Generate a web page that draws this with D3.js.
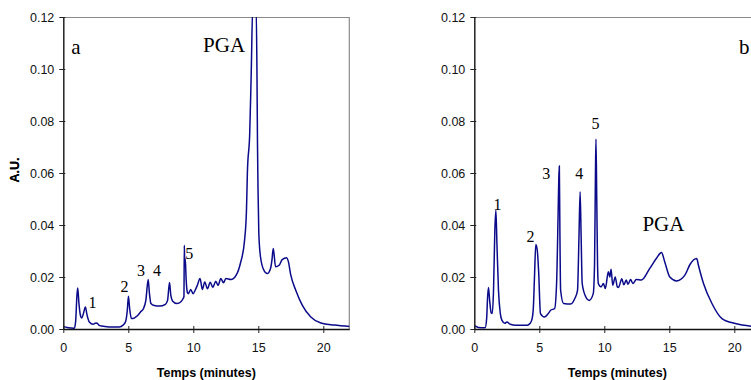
<!DOCTYPE html>
<html>
<head>
<meta charset="utf-8">
<script src="https://cdn.jsdelivr.net/npm/d3@7"></script>
<style>
  body { margin: 0; background: #fff; }
  svg { display: block; }
</style>
</head>
<body>
<div id="chart"></div>
<script>
// chromatogram a : time (min) / absorbance
const tA = [0, 0.3, 0.6, 0.85, 0.95, 1.05, 1.11, 1.2, 1.32, 1.42, 1.55, 1.7, 1.82, 2.0, 2.3, 2.5, 2.6, 2.8, 3.2, 3.8,
  4.3, 4.6, 4.8, 4.92, 5.01, 5.1, 5.24, 5.45, 5.65, 5.85, 5.95, 6.17, 6.35, 6.53, 6.62, 6.74, 7.0, 7.4, 7.85, 8.02,
  8.17, 8.27, 8.4, 8.74, 9.05, 9.22, 9.28, 9.31, 9.34, 9.38, 9.45, 9.55, 9.62, 9.8, 9.98, 10.15, 10.31, 10.52, 10.7, 10.88,
  11.09, 11.3, 11.5, 11.73, 11.9, 12.12, 12.32, 12.5, 12.9, 13.3, 13.62, 13.94, 14.09, 14.16, 14.34, 14.45, 14.58, 14.83, 14.9, 14.94,
  14.98, 15.04, 15.17, 15.43, 15.69, 15.94, 16.05, 16.15, 16.33, 16.6, 16.84, 17.18, 17.3, 17.5, 17.88, 18.39, 19.04, 19.81, 20.83, 22.05];
const auA = [0.0010, 0.0006, 0.0004, 0.0003, 0.0030, 0.0130, 0.0158, 0.0100, 0.0052, 0.0042, 0.0060, 0.0085, 0.0055, 0.0027, 0.0018, 0.0023, 0.0022, 0.0013, 0.0010, 0.0008,
  0.0008, 0.0015, 0.0030, 0.0070, 0.0126, 0.0080, 0.0040, 0.0042, 0.0049, 0.0060, 0.0066, 0.0079, 0.0110, 0.0190, 0.0140, 0.0098, 0.0090, 0.0088, 0.0095, 0.0110,
  0.0179, 0.0130, 0.0108, 0.0098, 0.0105, 0.0117, 0.0125, 0.0322, 0.0255, 0.0271, 0.0190, 0.0140, 0.0136, 0.0152, 0.0136, 0.0150, 0.0168, 0.0194, 0.0152, 0.0181,
  0.0155, 0.0180, 0.0160, 0.0184, 0.0168, 0.0194, 0.0178, 0.0194, 0.0190, 0.0207, 0.0252, 0.0340, 0.0457, 0.0600, 0.0753, 0.0970, 0.1250, 0.1250, 0.0970, 0.0700,
  0.0534, 0.0368, 0.0277, 0.0226, 0.0213, 0.0233, 0.0265, 0.0310, 0.0239, 0.0245, 0.0267, 0.0274, 0.0262, 0.0207, 0.0149, 0.0091, 0.0046, 0.0023, 0.0015, 0.0010];

// chromatogram b
const tB = [0, 0.05, 0.3, 0.83, 0.95, 1.02, 1.09, 1.18, 1.3, 1.38, 1.48, 1.58, 1.66, 1.74, 1.86, 2.0, 2.12, 2.35, 2.51, 2.77,
  3.2, 4.06, 4.3, 4.45, 4.55, 4.63, 4.73, 4.85, 4.95, 5.09, 5.4, 5.7, 5.87, 6.18, 6.33, 6.45, 6.5, 6.54, 6.58, 6.64,
  6.87, 7.42, 7.73, 7.94, 8.05, 8.14, 8.22, 8.3, 8.58, 8.84, 9.15, 9.25, 9.32, 9.36, 9.42, 9.48, 9.54, 9.75, 9.93, 10.08,
  10.31, 10.42, 10.52, 10.65, 10.84, 11.0, 11.09, 11.35, 11.5, 11.69, 11.82, 12.02, 12.2, 12.46, 12.85, 13.5, 14.0, 14.4, 14.65, 15.04,
  15.56, 16.2, 16.6, 17.11, 17.24, 17.63, 18.28, 19.05, 20.09, 21.46, 22.0];
const auB = [0.0010, 0.0012, 0.0006, 0.0005, 0.0040, 0.0120, 0.0160, 0.0110, 0.0062, 0.0060, 0.0150, 0.0380, 0.0457, 0.0330, 0.0149, 0.0060, 0.0034, 0.0022, 0.0027, 0.0018,
  0.0014, 0.0014, 0.0022, 0.0040, 0.0090, 0.0200, 0.0325, 0.0300, 0.0220, 0.0059, 0.0046, 0.0060, 0.0072, 0.0079, 0.0175, 0.0450, 0.0580, 0.0627, 0.0400, 0.0149,
  0.0098, 0.0096, 0.0117, 0.0149, 0.0350, 0.0528, 0.0350, 0.0175, 0.0123, 0.0110, 0.0136, 0.0250, 0.0600, 0.0730, 0.0500, 0.0250, 0.0175, 0.0162, 0.0175, 0.0156,
  0.0220, 0.0200, 0.0230, 0.0168, 0.0200, 0.0162, 0.0160, 0.0193, 0.0170, 0.0188, 0.0172, 0.0190, 0.0175, 0.0190, 0.0188, 0.0233, 0.0271, 0.0294, 0.0258, 0.0200,
  0.0185, 0.0207, 0.0249, 0.0271, 0.0245, 0.0175, 0.0098, 0.0040, 0.0021, 0.0010, 0.0008];

const xTicks = [0, 5, 10, 15, 20];
const yTicks = [0, 0.02, 0.04, 0.06, 0.08, 0.10, 0.12];

// peak labels (text, time, absorbance at label centre)
const peaksA = [["1", 2.24, 0.0102], ["2", 4.70, 0.0162], ["3", 5.97, 0.0226], ["4", 7.20, 0.0226], ["5", 9.69, 0.0291]];
const peaksB = [["1", 1.79, 0.048], ["2", 4.32, 0.0355], ["3", 5.54, 0.0599], ["4", 8.07, 0.0599], ["5", 9.32, 0.0792]];
const bigA = [["a", 0.98, 0.1086], ["PGA", 12.37, 0.1093]];
const bigB = [["b", 20.76, 0.1087], ["PGA", 14.55, 0.0406]];

const width = 751, height = 380;
const plotW = 286, plotH = 312, plotTop = 17;

const svg = d3.select("#chart").append("svg")
    .attr("width", width)
    .attr("height", height);

function drawPanel(left, id, t, au, peaks, big) {
    let x = d3.scaleLinear().domain([0, 22]).range([0, plotW]);
    let y = d3.scaleLinear().domain([0, 0.12]).range([plotH, 0]);

    let g = svg.append("g").attr("transform", `translate(${left}, ${plotTop})`);

    // grey frame top + right
    g.append("path")
        .attr("d", `M0,0.5H${plotW}V${plotH}`)
        .attr("fill", "none")
        .attr("stroke", "#8a8a8a")
        .attr("stroke-width", 1.2);

    g.append("clipPath").attr("id", "clip" + id)
        .append("rect").attr("x", 0).attr("y", 0).attr("width", plotW).attr("height", plotH);

    let line = d3.line()
        .x(d => x(d[0]))
        .y(d => y(d[1]))
        .curve(d3.curveMonotoneX);

    g.append("path")
        .datum(d3.zip(t, au))
        .attr("clip-path", `url(#clip${id})`)
        .attr("d", line)
        .attr("fill", "none")
        .attr("stroke", "#0a0a8a")
        .attr("stroke-width", 1.5);

    // y axis
    let ya = g.append("g")
        .call(d3.axisLeft(y).tickValues(yTicks).tickFormat(d3.format(".2f")).tickSizeOuter(0));
    ya.select(".domain").attr("stroke", "#222").attr("stroke-width", 1.5);
    ya.selectAll(".tick line").attr("x1", 2).attr("x2", -4).attr("stroke", "#222");
    ya.selectAll(".tick text").attr("x", -9)
        .style("font-family", "Arial, 'Liberation Sans', sans-serif")
        .style("font-size", "12.5px").attr("fill", "#111");

    // x axis
    let xa = g.append("g")
        .attr("transform", `translate(0, ${plotH})`)
        .call(d3.axisBottom(x).tickValues(xTicks).tickSizeOuter(0));
    xa.select(".domain").attr("stroke", "#111").attr("stroke-width", 1.5);
    xa.selectAll(".tick line").attr("y1", -3).attr("y2", 4).attr("stroke", "#222");
    xa.selectAll(".tick text").attr("y", 14)
        .style("font-family", "Arial, 'Liberation Sans', sans-serif")
        .style("font-size", "12.5px").attr("fill", "#111");

    // axis titles
    g.append("text")
        .attr("transform", `translate(${plotW / 2}, ${plotH + 48})`)
        .style("text-anchor", "middle")
        .style("font-family", "Arial, 'Liberation Sans', sans-serif")
        .style("font-weight", "bold")
        .style("font-size", "12.5px")
        .text("Temps (minutes)");

    g.append("text")
        .attr("transform", `translate(${-left + 15}, ${153}) rotate(-90)`)
        .attr("dy", "0.35em")
        .style("text-anchor", "middle")
        .style("font-family", "Arial, 'Liberation Sans', sans-serif")
        .style("font-weight", "bold")
        .style("font-size", "12.5px")
        .text("A.U.");

    // peak numbers
    g.selectAll("text.peak")
        .data(peaks)
        .enter()
        .append("text")
        .attr("class", "peak")
        .attr("x", d => x(d[1]))
        .attr("y", d => y(d[2]))
        .attr("dy", "0.35em")
        .style("text-anchor", "middle")
        .style("font-family", "'Times New Roman', 'Liberation Serif', serif")
        .style("font-size", "16px")
        .text(d => d[0]);

    g.selectAll("text.big")
        .data(big)
        .enter()
        .append("text")
        .attr("class", "big")
        .attr("x", d => x(d[1]))
        .attr("y", d => y(d[2]))
        .attr("dy", "0.35em")
        .style("text-anchor", "middle")
        .style("font-family", "'Times New Roman', 'Liberation Serif', serif")
        .style("font-size", "21px")
        .text(d => d[0]);
}

drawPanel(63.3, "a", tA, auA, peaksA, bigA);
drawPanel(474.3, "b", tB, auB, peaksB, bigB);
</script>
</body>
</html>
